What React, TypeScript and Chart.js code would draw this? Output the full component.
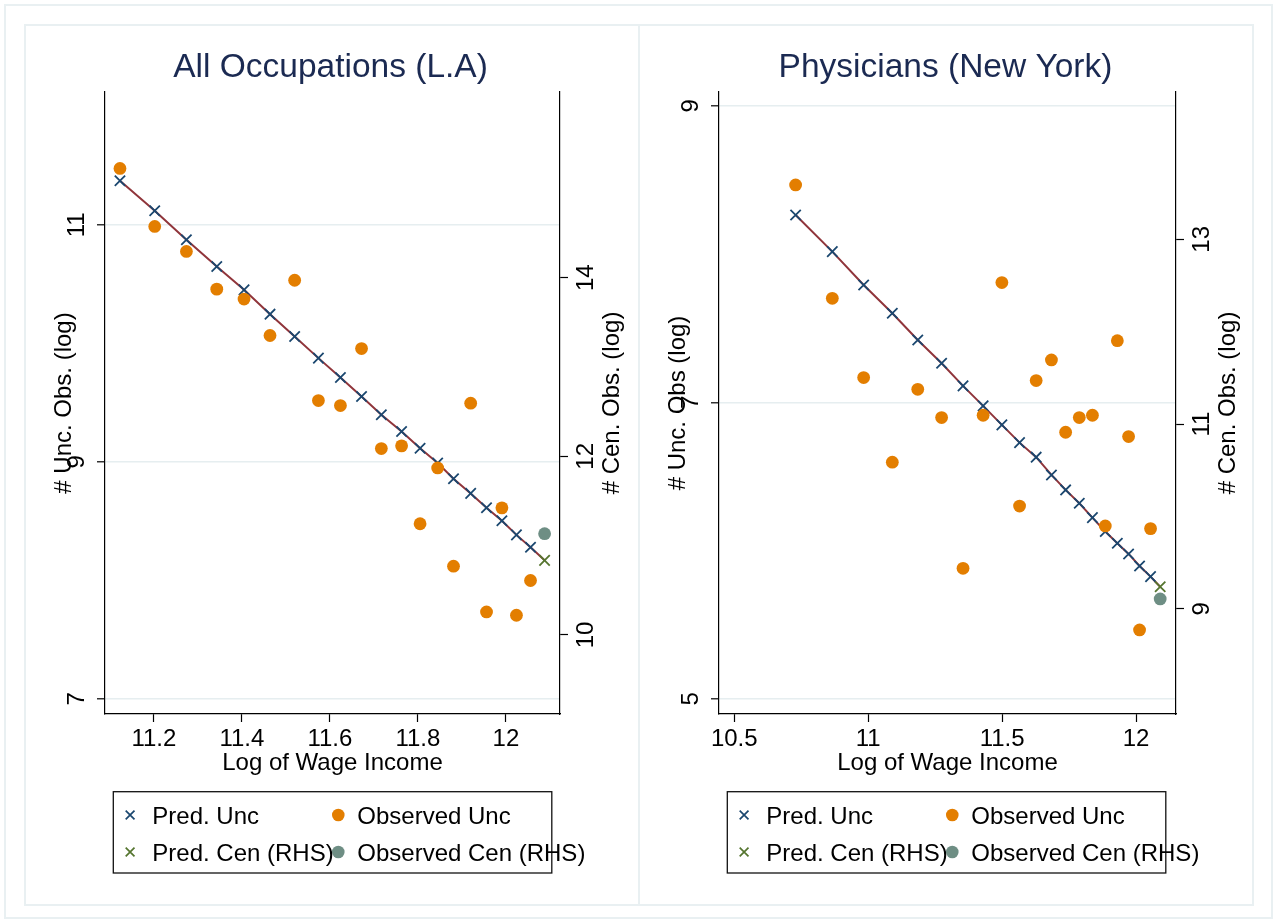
import React, { useEffect, useRef } from "react";
import { Chart, registerables } from "chart.js";

Chart.register(...registerables);

// ---------------- Data: All Occupations (L.A) ----------------
const laTitle = "All Occupations (L.A)";
const laYTitle = "# Unc. Obs. (log)";
const laY2Title = "# Cen. Obs. (log)";
const laX = [11.123, 11.202, 11.274, 11.343, 11.405, 11.464, 11.52, 11.574, 11.624, 11.672, 11.717, 11.763, 11.805, 11.845, 11.881, 11.92, 11.956, 11.991, 12.024, 12.056];
const laPredUnc = [11.371, 11.118, 10.873, 10.648, 10.451, 10.246, 10.057, 9.875, 9.711, 9.551, 9.397, 9.256, 9.115, 8.99, 8.858, 8.734, 8.613, 8.503, 8.384, 8.28];
const laObsUnc = [11.475, 10.986, 10.775, 10.457, 10.373, 10.066, 10.532, 9.517, 9.475, 9.956, 9.112, 9.135, 8.478, 8.949, 8.12, 9.495, 7.734, 8.612, 7.706, 7.999];
const laCenX = [12.088];
const laPredCen = [10.835];
const laObsCen = [11.134];
const laLineEnd = [8.17]; // predicted censored value on the left-axis scale
const laXTicks = [11.2, 11.4, 11.6, 11.8, 12];
const laYTicks = [7, 9, 11];
const laY2Ticks = [10, 12, 14];
const laXRange = [11.089, 12.123];
const laYRange = [6.873, 12.12];
const laY2Range = [9.115, 16.08];

// ---------------- Data: Physicians (New York) ----------------
const nyTitle = "Physicians (New York)";
const nyYTitle = "# Unc. Obs (log)";
const nyY2Title = "# Cen. Obs. (log)";
const nyX = [10.729, 10.866, 10.983, 11.09, 11.185, 11.274, 11.354, 11.429, 11.499, 11.565, 11.627, 11.684, 11.737, 11.788, 11.837, 11.885, 11.93, 11.972, 12.013, 12.054];
const nyPredUnc = [8.264, 8.017, 7.792, 7.601, 7.421, 7.264, 7.111, 6.976, 6.848, 6.728, 6.63, 6.51, 6.409, 6.319, 6.222, 6.128, 6.049, 5.977, 5.896, 5.824];
const nyObsUnc = [8.467, 7.702, 7.167, 6.596, 7.088, 6.897, 5.88, 6.913, 7.808, 6.3, 7.147, 7.286, 6.798, 6.897, 6.913, 6.166, 7.416, 6.769, 5.464, 6.148];
const nyCenX = [12.09];
const nyPredCen = [9.241];
const nyObsCen = [9.108];
const nyLineEnd = [5.756];
const nyXTicks = [10.5, 11, 11.5, 12];
const nyYTicks = [5, 7, 9];
const nyY2Ticks = [9, 11, 13];
const nyXRange = [10.443, 12.149];
const nyYRange = [4.897, 9.094];
const nyY2Range = [7.863, 14.595];

const xTitle = "Log of Wage Income";
const legendLabels = ["Pred. Unc", "Observed Unc", "Pred. Cen (RHS)", "Observed Cen (RHS)"];

// ---------------- Styles ----------------
const FONT = "'Liberation Sans', Arial, Helvetica, sans-serif";
const FS = 24;
const NAVY = "#1a476f";
const MAROON = "#90353b";
const ORANGE = "#e37e00";
const GREEN = "#55752f";
const TEAL = "#6e8e84";
const TITLE_COLOR = "#1b2a52";
const GRID = "#e6eef0";
const FRAME = "#e9f0f2";

const CW = 612;
const CH = 878;

function vtext(ctx: CanvasRenderingContext2D, s: string, x: number, y: number) {
  ctx.save();
  ctx.translate(x, y);
  ctx.rotate(-Math.PI / 2);
  ctx.textAlign = "center";
  ctx.textBaseline = "alphabetic";
  ctx.fillText(s, 0, 0);
  ctx.restore();
}

function drawCross(ctx: CanvasRenderingContext2D, x: number, y: number, h: number, color: string) {
  ctx.save();
  ctx.strokeStyle = color;
  ctx.lineWidth = 1.7;
  ctx.beginPath();
  ctx.moveTo(x - h, y - h);
  ctx.lineTo(x + h, y + h);
  ctx.moveTo(x + h, y - h);
  ctx.lineTo(x - h, y + h);
  ctx.stroke();
  ctx.restore();
}

function drawDot(ctx: CanvasRenderingContext2D, x: number, y: number, r: number, color: string) {
  ctx.save();
  ctx.fillStyle = color;
  ctx.beginPath();
  ctx.arc(x, y, r, 0, Math.PI * 2);
  ctx.fill();
  ctx.restore();
}

const overlayPlugin = {
  id: "overlay",
  afterDraw(chart: any, _args: any, o: any) {
    const ctx: CanvasRenderingContext2D = chart.ctx;
    const ca = chart.chartArea;
    const y = chart.scales.y;
    const y2 = chart.scales.y2;
    ctx.save();
    ctx.fillStyle = "#000";
    ctx.font = `${FS}px ${FONT}`;
    for (const v of o.yTicks) vtext(ctx, String(v), ca.left - 21.5, y.getPixelForValue(v));
    for (const v of o.y2Ticks) vtext(ctx, String(v), ca.right + 32.5, y2.getPixelForValue(v));
    const cy = (ca.top + ca.bottom) / 2;
    vtext(ctx, o.yTitle, ca.left - 34, cy);
    vtext(ctx, o.y2Title, ca.right + 59, cy);

    // Title
    ctx.fillStyle = TITLE_COLOR;
    ctx.font = `33.5px ${FONT}`;
    ctx.textAlign = "center";
    ctx.textBaseline = "alphabetic";
    ctx.fillText(o.title, (ca.left + ca.right) / 2 - 2, ca.top - 15.3);

    // Legend
    const bl = ca.left + 8.3;
    const bt = ca.bottom + 77.7;
    const bw = 438.5;
    const bh = 81.3;
    ctx.strokeStyle = "#111";
    ctx.lineWidth = 1.3;
    ctx.strokeRect(bl, bt, bw, bh);
    const r1 = bt + 23.3;
    const r2 = bt + 60.3;
    drawCross(ctx, bl + 16.8, r1, 4.4, NAVY);
    drawDot(ctx, bl + 225, r1, 6.3, ORANGE);
    drawCross(ctx, bl + 16.8, r2, 4.4, GREEN);
    drawDot(ctx, bl + 225, r2, 6.3, TEAL);
    ctx.fillStyle = "#000";
    ctx.font = `${FS}px ${FONT}`;
    ctx.textAlign = "left";
    ctx.fillText(o.legend[0], bl + 39, bt + 31.8);
    ctx.fillText(o.legend[1], bl + 244, bt + 31.8);
    ctx.fillText(o.legend[2], bl + 39, bt + 69.2);
    ctx.fillText(o.legend[3], bl + 244, bt + 69.2);
    ctx.restore();
  },
};

type PanelProps = {
  left: number;
  title: string;
  yTitle: string;
  y2Title: string;
  x: number[];
  predUnc: number[];
  obsUnc: number[];
  cenX: number[];
  predCen: number[];
  obsCen: number[];
  lineEnd: number[];
  xTicks: number[];
  yTicks: number[];
  y2Ticks: number[];
  xRange: number[];
  yRange: number[];
  y2Range: number[];
  rightPad: number;
};

function Panel(p: PanelProps) {
  const ref = useRef<HTMLCanvasElement | null>(null);
  useEffect(() => {
    if (!ref.current) return;
    const pts = (xs: number[], ys: number[]) => xs.map((v, i) => ({ x: v, y: ys[i] }));
    const lineXs = p.x.concat(p.cenX);
    const lineYs = p.predUnc.concat(p.lineEnd);
    const fixTicks = (vals: number[]) => (s: any) => {
      s.ticks = vals.map((v) => ({ value: v }));
    };
    const chart = new Chart(ref.current, {
      type: "scatter",
      data: {
        datasets: [
          {
            label: "fit",
            data: pts(lineXs, lineYs),
            showLine: true,
            borderColor: MAROON,
            borderWidth: 2,
            pointRadius: 0,
            yAxisID: "y",
            order: 10,
          } as any,
          {
            label: "Pred. Unc",
            data: pts(p.x, p.predUnc),
            pointStyle: "crossRot",
            pointRadius: 7.3,
            borderColor: NAVY,
            borderWidth: 1.8,
            yAxisID: "y",
            order: 4,
          },
          {
            label: "Observed Unc",
            data: pts(p.x, p.obsUnc),
            pointStyle: "circle",
            pointRadius: 6.4,
            backgroundColor: ORANGE,
            borderWidth: 0,
            yAxisID: "y",
            order: 3,
          },
          {
            label: "Pred. Cen (RHS)",
            data: pts(p.cenX, p.predCen),
            pointStyle: "crossRot",
            pointRadius: 7.3,
            borderColor: GREEN,
            borderWidth: 1.8,
            yAxisID: "y2",
            order: 2,
          },
          {
            label: "Observed Cen (RHS)",
            data: pts(p.cenX, p.obsCen),
            pointStyle: "circle",
            pointRadius: 6.4,
            backgroundColor: TEAL,
            borderWidth: 0,
            yAxisID: "y2",
            order: 1,
          },
        ],
      },
      options: {
        responsive: false,
        animation: false,
        devicePixelRatio: 1,
        clip: false as any,
        layout: {
          padding: { left: 71, right: p.rightPad, top: 66, bottom: 126.2 },
        },
        plugins: {
          legend: { display: false },
          tooltip: { enabled: false },
          title: { display: false },
          overlay: {
            title: p.title,
            yTitle: p.yTitle,
            y2Title: p.y2Title,
            yTicks: p.yTicks,
            y2Ticks: p.y2Ticks,
            legend: legendLabels,
          },
        } as any,
        scales: {
          x: {
            type: "linear",
            position: "bottom",
            min: p.xRange[0],
            max: p.xRange[1],
            afterBuildTicks: fixTicks(p.xTicks),
            afterFit: (s: any) => {
              s.height = 63.8;
            },
            border: { display: true, color: "#000", width: 1.2 },
            grid: { drawOnChartArea: false, drawTicks: true, tickLength: 8, tickColor: "#000", tickWidth: 1.2 },
            ticks: {
              autoSkip: false,
              maxRotation: 0,
              minRotation: 0,
              padding: 3,
              color: "#000",
              font: { family: FONT, size: FS },
              callback: (v: any) => String(v),
            },
            title: {
              display: true,
              text: xTitle,
              color: "#000",
              font: { family: FONT, size: FS },
              padding: 0,
            },
          },
          y: {
            type: "linear",
            position: "left",
            min: p.yRange[0],
            max: p.yRange[1],
            afterBuildTicks: fixTicks(p.yTicks),
            afterFit: (s: any) => {
              s.width = 8;
            },
            border: { display: true, color: "#000", width: 1.2 },
            grid: { drawOnChartArea: true, color: GRID, lineWidth: 1.6, drawTicks: true, tickLength: 8, tickColor: "#000", tickWidth: 1.2 },
            ticks: { display: false },
          },
          y2: {
            type: "linear",
            position: "right",
            min: p.y2Range[0],
            max: p.y2Range[1],
            afterBuildTicks: fixTicks(p.y2Ticks),
            afterFit: (s: any) => {
              s.width = 8;
            },
            border: { display: true, color: "#000", width: 1.2 },
            grid: { drawOnChartArea: false, drawTicks: true, tickLength: 8, tickColor: "#000", tickWidth: 1.2 },
            ticks: { display: false },
          },
        },
      } as any,
      plugins: [overlayPlugin as any],
    });
    return () => chart.destroy();
  }, []);
  return (
    <canvas
      ref={ref}
      width={CW}
      height={CH}
      style={{ position: "absolute", left: p.left, top: 26, width: CW, height: CH }}
    />
  );
}

export default function App() {
  return (
    <div style={{ position: "absolute", left: 0, top: 0, width: 1275, height: 920, background: "#fff", overflow: "hidden" }}>
      <div style={{ position: "absolute", left: 4, top: 4, width: 1265, height: 911, border: `2px solid ${FRAME}` }} />
      <div style={{ position: "absolute", left: 24, top: 24, width: 612, height: 878, border: `2px solid ${FRAME}` }} />
      <div style={{ position: "absolute", left: 638, top: 24, width: 612, height: 878, border: `2px solid ${FRAME}` }} />
      <Panel
        left={26}
        title={laTitle}
        yTitle={laYTitle}
        y2Title={laY2Title}
        x={laX}
        predUnc={laPredUnc}
        obsUnc={laObsUnc}
        cenX={laCenX}
        predCen={laPredCen}
        obsCen={laObsCen}
        lineEnd={laLineEnd}
        xTicks={laXTicks}
        yTicks={laYTicks}
        y2Ticks={laY2Ticks}
        xRange={laXRange}
        yRange={laYRange}
        y2Range={laY2Range}
        rightPad={70}
      />
      <Panel
        left={640}
        title={nyTitle}
        yTitle={nyYTitle}
        y2Title={nyY2Title}
        x={nyX}
        predUnc={nyPredUnc}
        obsUnc={nyObsUnc}
        cenX={nyCenX}
        predCen={nyPredCen}
        obsCen={nyObsCen}
        lineEnd={nyLineEnd}
        xTicks={nyXTicks}
        yTicks={nyYTicks}
        y2Ticks={nyY2Ticks}
        xRange={nyXRange}
        yRange={nyYRange}
        y2Range={nyY2Range}
        rightPad={68}
      />
    </div>
  );
}
